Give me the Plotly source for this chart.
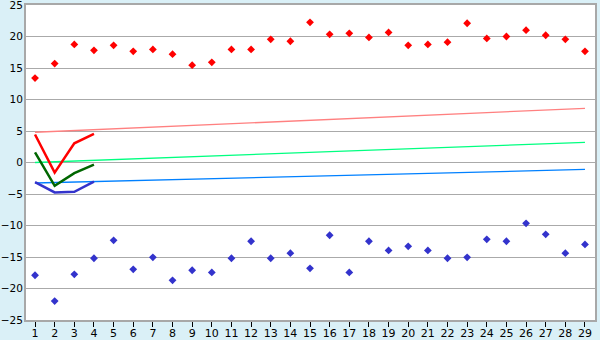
import plotly.graph_objects as go

x = list(range(1, 30))
upper = [13.4, 15.7, 18.75, 17.8, 18.6, 17.65, 17.95, 17.2, 15.45,
         15.9, 17.95, 17.95, 19.55, 19.25, 22.25, 20.35, 20.5, 19.85, 20.65,
         18.6, 18.75, 19.1, 22.1, 19.7, 20.0, 21.0, 20.2, 19.55, 17.65]
lower = [-17.9, -22.0, -17.75, -15.2, -12.35, -16.95, -15.05, -18.7, -17.1,
         -17.45, -15.2, -12.5, -15.2, -14.4, -16.8, -11.55, -17.45, -12.5, -13.95,
         -13.3, -13.95, -15.2, -15.05, -12.2, -12.5, -9.65, -11.4, -14.4, -13.0]
trend_x = [1, 29]
trend_red = [4.8, 8.6]
trend_green = [0.0, 3.2]
trend_blue = [-3.25, -1.1]
short_x = [1, 2, 3, 4]
short_red = [4.45, -1.6, 3.05, 4.55]
short_green = [1.6, -3.7, -1.7, -0.35]
short_indigo = [-3.1, -4.75, -4.65, -3.05]
yticks = list(range(-25, 30, 5))

fig = go.Figure()
fig.add_trace(go.Scatter(x=trend_x, y=trend_red, mode="lines", line=dict(color="#ff8080", width=1.3)))
fig.add_trace(go.Scatter(x=trend_x, y=trend_green, mode="lines", line=dict(color="#00ff80", width=1.3)))
fig.add_trace(go.Scatter(x=trend_x, y=trend_blue, mode="lines", line=dict(color="#0080ff", width=1.3)))
fig.add_trace(go.Scatter(x=short_x, y=short_red, mode="lines", line=dict(color="#ff0000", width=2.5)))
fig.add_trace(go.Scatter(x=short_x, y=short_green, mode="lines", line=dict(color="#006600", width=2.5)))
fig.add_trace(go.Scatter(x=short_x, y=short_indigo, mode="lines", line=dict(color="#3333cc", width=2.5)))
fig.add_trace(go.Scatter(x=x, y=upper, mode="markers",
                         marker=dict(symbol="diamond", size=6, color="#ff0000")))
fig.add_trace(go.Scatter(x=x, y=lower, mode="markers",
                         marker=dict(symbol="diamond", size=6, color="#3333cc")))

fig.update_layout(
    width=600, height=340,
    margin=dict(l=26, r=5, t=5, b=20),
    paper_bgcolor="#daf0f7",
    plot_bgcolor="#ffffff",
    showlegend=False,
    font=dict(family="DejaVu Sans", size=11, color="#000000"),
)
fig.update_xaxes(range=[0.54, 29.51], tickmode="array", tickvals=x,
                 ticks="outside", ticklen=5, tickcolor="#000000",
                 showgrid=False, zeroline=False, automargin=False,
                 ticklabeloverflow="allow", ticklabelstandoff=-3,
                 showline=True, linecolor="#a8a8a8", linewidth=2, mirror=True)
fig.update_yaxes(range=[-25, 25], tickmode="array", tickvals=yticks,
                 showgrid=True, gridcolor="#aaaaaa", gridwidth=1, zeroline=False,
                 automargin=False, ticklabeloverflow="allow",
                 tickfont=dict(size=10.5),
                 showline=True, linecolor="#a8a8a8", linewidth=2, mirror=True,
                 ticks="", ticklabelstandoff=-1)

fig.write_html("out.html")
